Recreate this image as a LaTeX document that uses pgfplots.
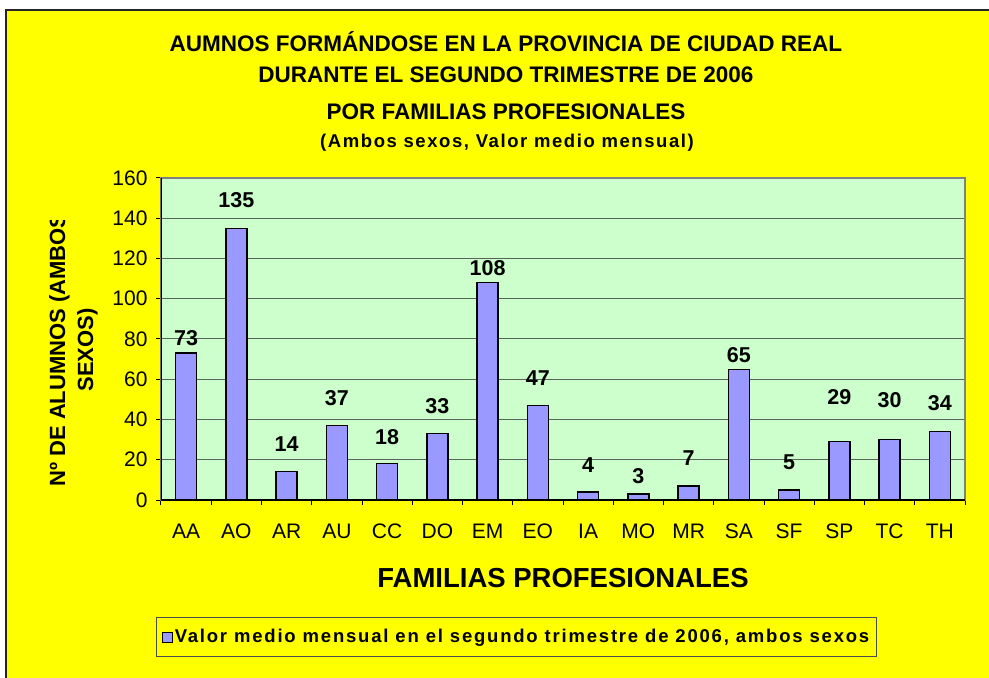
\documentclass[border=0pt]{standalone}
\usepackage{fontspec}
\setmainfont{Liberation Sans}
\usepackage{pgfplots}
\usepackage{pgfplotstable}
\pgfplotsset{compat=1.18}

\definecolor{bgyellow}{HTML}{FFFF00}
\definecolor{plotgreen}{HTML}{CCFFCC}
\definecolor{barblue}{HTML}{9999FF}
\definecolor{gridc}{HTML}{56645A}

% x, familia, alumnos, separacion de la etiqueta (px)
\pgfplotstableread{
x lab y off
0  AA 73  7
1  AO 135 20
2  AR 14  20
3  AU 37  19
4  CC 18  18
5  DO 33  19
6  EM 108 6
7  EO 47  19
8  IA 4   19
9  MO 3   10
10 MR 7   20
11 SA 65  6
12 SF 5   20
13 SP 29  36
14 TC 30  31
15 TH 34  20
}\datatable

\begin{document}
\begin{tikzpicture}
\begin{scope}[x=1pt,y=1pt]
\useasboundingbox (0,0) rectangle (989,678);
\fill[white] (0,0) rectangle (989,678);
\fill[bgyellow] (6,0) rectangle (989,668);
\draw[line width=2pt, black!85] (6,0) -- (6,668) -- (989,668);

% titulos
\node[anchor=base, font=\fontsize{22.5}{26}\selectfont\bfseries] at (506,626)
  {AUMNOS FORMÁNDOSE EN LA PROVINCIA DE CIUDAD REAL};
\node[anchor=base, font=\fontsize{22.5}{26}\selectfont\bfseries] at (506,595)
  {DURANTE EL SEGUNDO TRIMESTRE DE 2006};
\node[anchor=base, font=\fontsize{22.5}{26}\selectfont\bfseries] at (506,558)
  {POR FAMILIAS PROFESIONALES};
\node[anchor=base, font=\fontsize{18.5}{22}\selectfont\bfseries\addfontfeature{LetterSpace=8.5}] at (507,530)
  {(Ambos sexos, Valor medio mensual)};

% eje y (texto recortado como en el original)
\begin{scope}
\clip (0,0) rectangle (989,457);
\node[anchor=base, rotate=90, font=\fontsize{22}{26}\selectfont\bfseries] at (65,328)
  {Nº DE ALUMNOS (AMBOS};
\end{scope}
\node[anchor=base, rotate=90, font=\fontsize{22}{26}\selectfont\bfseries] at (93,328)
  {SEXOS)};

% eje x
\node[anchor=base, font=\fontsize{27.5}{32}\selectfont\bfseries] at (563,90)
  {FAMILIAS PROFESIONALES};
\end{scope}

\begin{axis}[
    at={(161pt,178pt)}, anchor=south west,
    scale only axis, width=804pt, height=322pt,
    xmin=-0.5, xmax=15.5, ymin=0, ymax=160,
    ytick={0,20,...,160},
    xtick={0,...,15},
    xticklabels={AA,AO,AR,AU,CC,DO,EM,EO,IA,MO,MR,SA,SF,SP,TC,TH},
    minor xtick={-0.5,0.5,...,15.5},
    major x tick style={draw=none},
    tick pos=left, tick align=outside,
    major tick length=5pt, minor tick length=5pt,
    tick style={black, line width=1pt},
    minor tick style={black, line width=1pt},
    ymajorgrids, grid style={gridc, line width=1pt},
    axis background/.style={fill=plotgreen},
    axis line style={draw=gray, line width=2pt},
    ticklabel style={font=\fontsize{21}{24}\selectfont},
    xticklabel style={anchor=north, text height=15pt, text depth=0pt, inner sep=0pt, yshift=-18pt},
    yticklabel style={xshift=-5pt},
    /pgf/number format/assume math mode=true,
    ybar, bar width=21pt,
    nodes near coords,
    visualization depends on={\thisrow{off} \as \off},
    every node near coord/.append style={font=\fontsize{21.5}{24}\selectfont\bfseries,
        anchor=south, inner sep=0pt, yshift=\off pt},
    legend style={at={(0.4422,-0.4255)}, anchor=center, draw=black!70, line width=1pt,
        fill=bgyellow, font=\fontsize{18.5}{22}\selectfont\bfseries\addfontfeature{LetterSpace=9.7},
        inner xsep=5pt, inner ysep=10pt},
    legend image code/.code={\draw[fill=barblue, draw=black, line width=1pt] (0pt,-5pt) rectangle (10pt,5pt);},
]
\addplot[fill=barblue, draw=black, line width=1.3pt] table[x=x, y=y]{\datatable};
\addlegendentry{Valor medio mensual en el segundo trimestre de 2006, ambos sexos}
\draw[black, line width=1.5pt] (axis cs:-0.5,160) |- (axis cs:15.5,0);
\end{axis}
\end{tikzpicture}
\end{document}
